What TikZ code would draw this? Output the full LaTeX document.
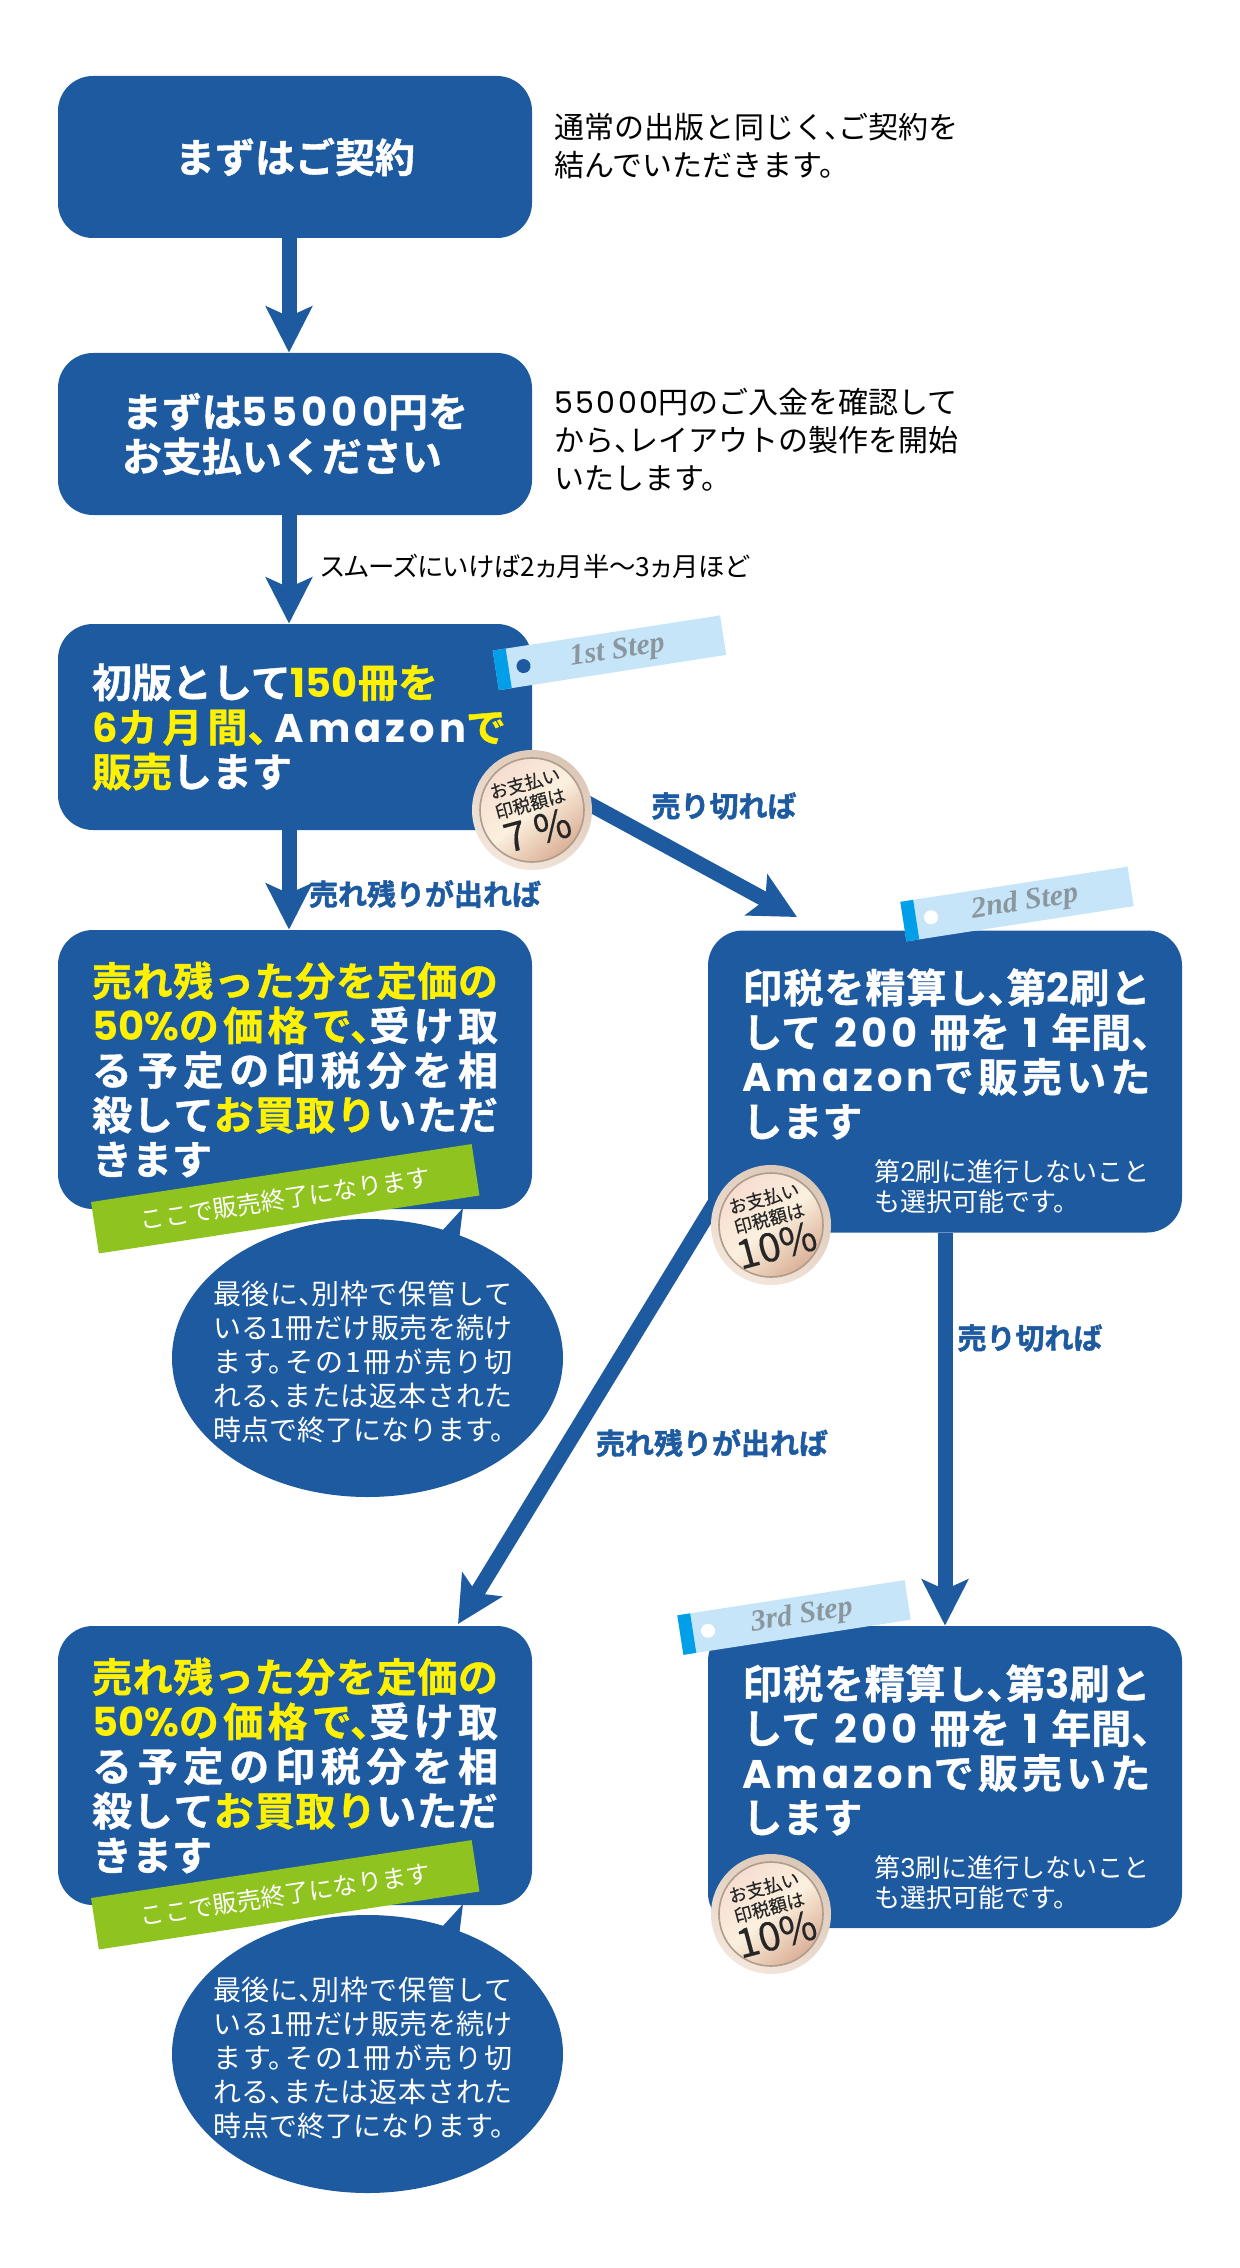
\documentclass[tikz,border=0pt]{standalone}
\usepackage{fontspec}
\usetikzlibrary{arrows.meta,shapes.geometric,backgrounds,calc}
\setmainfont{Noto Sans CJK JP}
\newfontfamily\pf{Noto Sans CJK JP}[RawFeature=+palt]
\newfontfamily\hv{Noto Sans CJK JP Bold}[FakeBold=1]
\newfontfamily\hvl{Noto Sans CJK JP Bold}[FakeBold=1.5]
\newfontfamily\md{Noto Sans CJK JP}[FakeBold=0.3]
\newfontfamily\wlb{Poppins}[LetterSpace=10]
\newfontfamily\wlc{Poppins}
\newfontfamily\wrg{Poppins}[LetterSpace=8]
\newfontfamily\stepfont{Liberation Serif}[UprightFont=* Bold Italic]
\definecolor{bluebox}{HTML}{1E5AA0}
\definecolor{yel}{HTML}{FFF100}
\definecolor{grn}{HTML}{8FC31F}
\definecolor{taglight}{HTML}{C7E5F9}
\definecolor{tagdark}{HTML}{009FE8}
\definecolor{taggray}{HTML}{8B979E}
\definecolor{rimA}{HTML}{DBC7B6}
\definecolor{rimB}{HTML}{F3E6DB}
\definecolor{faceA}{HTML}{F7DDD1}
\definecolor{faceB}{HTML}{FBF0DE}
\definecolor{faceC}{HTML}{DBB097}
\definecolor{rimline}{HTML}{B09C8C}
\XeTeXlinebreaklocale "ja"
\XeTeXlinebreakskip=0pt plus 6pt minus .5pt
\newcommand\jl[2]{\parbox[b]{#1}{\tolerance=10000\hbadness=10000\parindent=0pt\parfillskip=0pt #2}}
\newcommand\yy[1]{\textcolor{yel}{#1}}
\newcommand\tc{、\kern-.52em\relax}
\newcommand\mr{。\kern-.4em\relax}
\newcommand\Lb[1]{{\wlb\bfseries #1}}
\newcommand\Lc[1]{{\wlc\bfseries #1}}
\newcommand\Lr[1]{{\wrg #1}}
\newcommand\twoline{\mbox{して}\hfill\Lb{200}\hfill\mbox{冊を}\hfill\Lb{1}\hfill\mbox{年間\tc}}
\tikzset{
 boxn/.style={fill=bluebox,rounded corners=17.5pt,minimum width=237pt,inner sep=0pt,text=white,align=left,font=\hv\fontsize{20}{22.3}\selectfont},
 flow/.style={draw=bluebox,line width=7.5pt,-{Stealth[length=23pt,width=23pt,inset=5pt]}},
 side/.style={align=left,anchor=west,inner sep=0pt,font=\fontsize{15}{19}\selectfont},
 lab/.style={text=bluebox,inner sep=0pt,font=\hvl\fontsize{14.5}{17}\selectfont},
 note/.style={text=white,align=left,anchor=west,inner sep=0pt,font=\fontsize{13}{15}\selectfont},
 ball/.style={text=white,align=left,inner sep=0pt,font=\fontsize{14}{17}\selectfont},
}
\newcommand\badge[4]{%
 \shade[top color=rimA,bottom color=rimB,shading angle=-30] (#2,#3) circle[radius=60];
 \shade[top color=faceA,bottom color=faceC,middle color=faceB,shading angle=40,draw=rimline,line width=.8pt] (#2,#3) circle[radius=52];
 \node[circle,inner sep=0pt,minimum size=50pt,rotate=15,align=center,text=black!85,font=\md\fontsize{9}{10.5}\selectfont] (#1) at (#2,#3)
  {お支払い\\印税額は\\[1pt]{\fontsize{20}{20}\selectfont #4}};
}
\newcommand\steptag[5]{%
 \begin{scope}[shift={(#2,#3)},rotate=8.8,transform shape]
  \node[fill=taglight,minimum width=115pt,minimum height=20pt,inner sep=0pt,text=taggray,font=\stepfont\fontsize{15}{15}\selectfont] (#1) {\hspace*{8pt}#4};
  \fill[tagdark] (-115,-20) rectangle (-102,20);
  \fill[#5] (-87,0) circle[radius=7];
 \end{scope}
}
\newcommand\soldout[2]{%
 \begin{scope}[shift={(0,#2)}]
  \node[boxn,minimum height=139.5pt] (b#1) at (295,1069.5) {%
   \jl{203pt}{\yy{売れ残った分を定価の}}\\
   \jl{203pt}{\yy{\Lc{50\%}の価格で\tc}受け取}\\
   \jl{203pt}{る予定の印税分を相}\\
   \jl{203pt}{殺して\yy{お買取り}いただ}\\
   きます};
  \fill[bluebox] (441,1232) -- (463,1208) -- (459,1240) -- cycle;
  \node[ellipse,fill=bluebox,inner sep=0pt,minimum width=195.5pt,minimum height=139pt] (e#1) at (367.5,1358) {};
  \node[ball] (et#1) at (363,1362) {%
   \jl{150pt}{最後に\tc 別枠で保管して}\\
   \jl{150pt}{いる1冊だけ販売を続け}\\
   \jl{150pt}{ます\mr その1冊が売り切}\\
   \jl{150pt}{れる\tc または返本された}\\
   時点で終了になります\mr};
  \node[fill=grn,minimum width=192.5pt,minimum height=26pt,inner sep=0pt,rotate=8.66,text=white,font=\fontsize{12.2}{14}\selectfont] (g#1) at (285.25,1198.75) {ここで販売終了になります};
 \end{scope}
}
\begin{document}
\begin{tikzpicture}[x=0.5pt,y=-0.5pt]
\useasboundingbox (0,0) rectangle (1240,2268);
\node[boxn,minimum height=81pt] (b1) at (295,157) {まずはご契約};
\node[boxn,minimum height=81pt] (b2) at (295,434) {まずは\Lb{55000}円を\\お支払いください};
\node[boxn,minimum height=103pt] (b3) at (295,727) {初版として\yy{\Lc{150}冊を}\\\jl{203pt}{\yy{\Lc{6}カ月間\tc}\kern4pt\Lb{Amazon}\yy{で}\kern-4pt}\\\yy{販売}します};
\soldout{4}{0}
\node[boxn,minimum height=151pt] (b5) at (945,1081.5) {};
\node[boxn,minimum height=151pt] (b6) at (945,1777) {};
\soldout{7}{696}
\node[boxn,fill=none,minimum width=0pt,anchor=west] (t5) at (742,1054) {\jl{204pt}{印税を精算し\tc 第\Lc{2}刷と}\\\jl{204pt}{\twoline}\\\jl{204pt}{\Lb{Amazon}で販売いた}\\します};
\node[boxn,fill=none,minimum width=0pt,anchor=west] (t6) at (742,1750) {\jl{204pt}{印税を精算し\tc 第\Lc{3}刷と}\\\jl{204pt}{\twoline}\\\jl{204pt}{\Lb{Amazon}で販売いた}\\します};
\node[note] (n5) at (874,1187) {第\Lr{2}刷に進行しないこと\\も選択可能です\mr};
\node[note] (n6) at (874,1883) {第\Lr{3}刷に進行しないこと\\も選択可能です\mr};
\node[side] (s1) at (554,146) {通常の出版と同じく\tc ご契約を\\結んでいただきます\mr};
\node[side] (s2) at (554,440) {\Lr{55000}円のご入金を確認して\\から\tc レイアウトの製作を開始\\いたします\mr};
\node[anchor=west,inner sep=0pt,font=\pf\fontsize{13.2}{15}\selectfont] (s3) at (320,566) {スムーズにいけば2ヵ月半〜3ヵ月ほど};
\node[lab] (l1) at (724,806) {売り切れば};
\node[lab] (l2) at (425,894) {売れ残りが出れば};
\node[lab] (l3) at (1030,1338) {売り切れば};
\node[lab] (l4) at (712,1443) {売れ残りが出れば};
\steptag{tag1}{609.5}{652.75}{1st Step}{bluebox}
\steptag{tag2}{1017}{904}{2nd Step}{white}
\steptag{tag3}{794}{1617.5}{3rd Step}{white}
\badge{bd1}{532}{810}{7 \%}
\badge{bd2}{771}{1225}{10\%}
\badge{bd3}{771}{1914}{10\%}
\coordinate (c5s) at (560,788);
\coordinate (c5) at (797,917);
\coordinate (c7s) at (730,1178);
\coordinate (c7) at (458,1624);
\begin{scope}[on background layer]
 \draw[flow] ([xshift=-3pt]b1.south) -- ([xshift=-3pt]b2.north);
 \draw[flow] ([xshift=-3pt]b2.south) -- ([xshift=-3pt]b3.north);
 \draw[flow] ([xshift=-3pt]b3.south) -- ([xshift=-3pt]b4.north);
 \draw[flow] (c5s) -- (c5);
 \draw[flow] (c7s) -- (c7);
 \draw[flow] (b5.south) -- (b6.north);
\end{scope}
\end{tikzpicture}
\end{document}
